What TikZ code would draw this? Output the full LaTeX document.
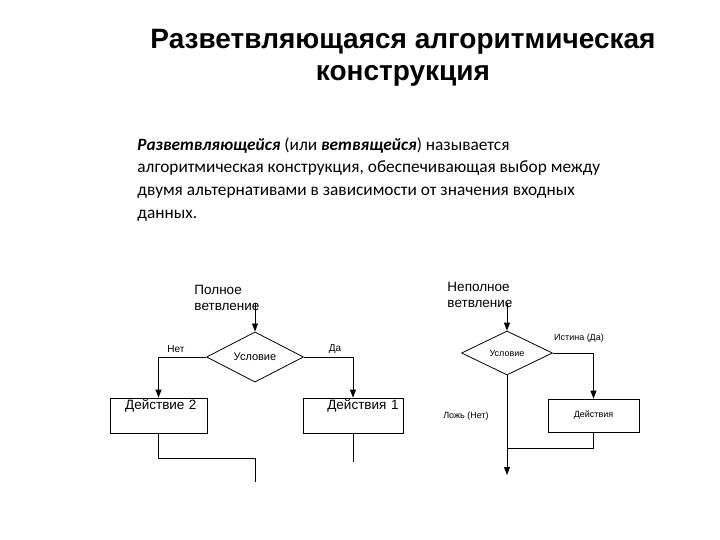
\documentclass[tikz,border=0pt]{standalone}
\usepackage{fontspec}
\setmainfont{Carlito}
\newfontfamily\arialfont{Liberation Sans}
\usetikzlibrary{shapes.geometric,arrows.meta}
\begin{document}
\begin{tikzpicture}[
  x=1pt, y=-1pt,
  line width=0.8pt,
  ttl/.style={font=\arialfont\bfseries\fontsize{28}{32}\selectfont, align=center, inner sep=0pt},
  para/.style={font=\fontsize{17.3}{22.8}\selectfont, align=left, inner sep=0pt},
  lbl/.style={font=\arialfont\fontsize{13.5}{16}\selectfont, align=left, inner sep=0pt},
  brlbl/.style={font=\arialfont\fontsize{10}{12}\selectfont, inner sep=0pt},
  brsmall/.style={font=\arialfont\fontsize{9}{11}\selectfont, inner sep=0pt},
  cond/.style={draw, diamond, inner sep=0pt},
  act/.style={draw, rectangle, inner sep=0pt},
  arr/.style={-{Triangle[length=8pt,width=6pt]}}
]
\useasboundingbox[fill=white] (0,0) rectangle (720,540);

\node[ttl] (title) at (403,58) {Разветвляющаяся алгоритмическая\\ конструкция};

\node[para, anchor=north west] (def) at (137,137)
  {\textbf{\textit{Разветвляющейся}} (или \textbf{\textit{ветвящейся}}) называется\\
   алгоритмическая конструкция, обеспечивающая выбор между\\
   двумя альтернативами в зависимости от значения входных\\
   данных.};

% full branching
\node[lbl] (full) at (227,298) {Полное\\ ветвление};
\coordinate (in1) at (255,303);
\node[cond, minimum width=97pt, minimum height=50pt, font=\arialfont\fontsize{11}{13}\selectfont] (c1) at (255,357) {Условие};
\node[act, minimum width=97pt, minimum height=35pt, font=\arialfont\fontsize{13.5}{16}\selectfont,
  text height=9pt, text depth=22pt, text width=76pt, align=right] (d2) at (158.5,415.5) {Действие 2};
\node[act, minimum width=100pt, minimum height=35pt, font=\arialfont\fontsize{13.5}{16}\selectfont,
  text height=9pt, text depth=22pt, text width=91pt, align=right] (d1) at (353,415.5) {Действия 1};
\coordinate (j1) at (255,458);
\coordinate (out1) at (255,482);
\coordinate (out2) at (353,462);
\node[brlbl] (no1) at (176,349) {Нет};
\node[brlbl] (yes1) at (335,349) {Да};

\draw[arr] (in1) -- (c1.north);
\draw[arr] (c1.west) -| (d2.north);
\draw[arr] (c1.east) -| (d1.north);
\draw (d2.south) |- (j1) -- (out1);
\draw (d1.south) -- (out2);

% partial branching
\node[lbl] (part) at (480,295) {Неполное\\ ветвление};
\coordinate (in2) at (507,303);
\node[cond, minimum width=91pt, minimum height=44pt, font=\arialfont\fontsize{9}{11}\selectfont] (c2) at (507,353) {Условие};
\node[act, minimum width=91pt, minimum height=33pt, font=\arialfont\fontsize{9}{11}\selectfont] (d3) at (593.5,415.5) {Действия};
\coordinate (j2) at (507,448);
\coordinate (out3) at (507,475);
\node[brsmall] (yes2) at (579,338) {Истина (Да)};
\node[brsmall] (no2) at (466,416) {Ложь (Нет)};

\draw[arr] (in2) -- (c2.north);
\draw[arr] (c2.east) -| (d3.north);
\draw[arr] (c2.south) -- (out3);
\draw (d3.south) |- (j2);
\end{tikzpicture}
\end{document}
